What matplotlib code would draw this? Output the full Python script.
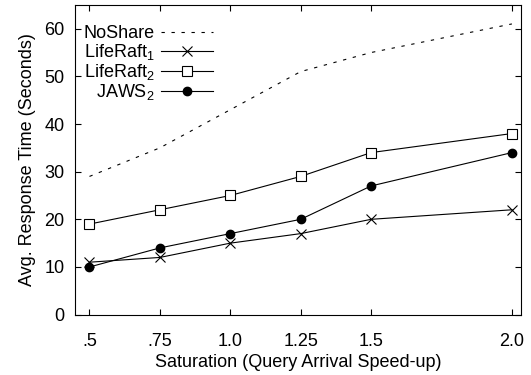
import matplotlib
matplotlib.use("Agg")
import matplotlib.pyplot as plt

plt.rcParams['font.family'] = ['Liberation Sans', 'DejaVu Sans']
plt.rcParams['mathtext.fontset'] = 'custom'
plt.rcParams['mathtext.rm'] = 'Liberation Sans'
plt.rcParams['mathtext.it'] = 'Liberation Sans'

# donnees
saturation = [0.5, 0.75, 1.0, 1.25, 1.5, 2.0]
tick_labels = ['.5', '.75', '1.0', '1.25', '1.5', '2.0']
noshare = [29, 35, 43, 51, 55, 61]
liferaft1 = [11, 12, 15, 17, 20, 22]
liferaft2 = [19, 22, 25, 29, 34, 38]
jaws2 = [10, 14, 17, 20, 27, 34]

fig = plt.figure(figsize=(5.31, 3.75), dpi=100)
ax = fig.add_axes([0.142, 0.161, 0.839, 0.826])

ax.plot(saturation, noshare, color='black', lw=0.8,
        linestyle=(0, (3.0, 6.0)), label='NoShare')
ax.plot(saturation, liferaft1, color='black', lw=0.8, marker='x',
        markersize=7, markeredgewidth=0.8, label='LifeRaft$_1$')
ax.plot(saturation, liferaft2, color='black', lw=0.8, marker='s',
        markersize=7, markerfacecolor='white', markeredgewidth=0.8,
        label='LifeRaft$_2$')
ax.plot(saturation, jaws2, color='black', lw=0.8, marker='o',
        markersize=6, label='JAWS$_2$')

ax.set_xlim(0.45, 2.032)
ax.set_ylim(0, 65)
ax.set_xticks(saturation)
ax.set_xticklabels(tick_labels)
ax.set_yticks(range(0, 61, 10))
ax.tick_params(direction='in', top=True, right=True, length=4, labelsize=13)
ax.tick_params(axis='x', pad=13)
ax.tick_params(axis='y', pad=8)

ax.set_xlabel('Saturation (Query Arrival Speed-up)', fontsize=13, labelpad=3)
ax.set_ylabel('Avg. Response Time (Seconds)', fontsize=13, labelpad=6)

ax.legend(loc='upper left', frameon=False, markerfirst=False, fontsize=13,
          handlelength=2.9, handletextpad=0.35, labelspacing=0.0,
          borderpad=0, borderaxespad=0, bbox_to_anchor=(0.018, 0.935))

fig.savefig('out.png', dpi=100)
